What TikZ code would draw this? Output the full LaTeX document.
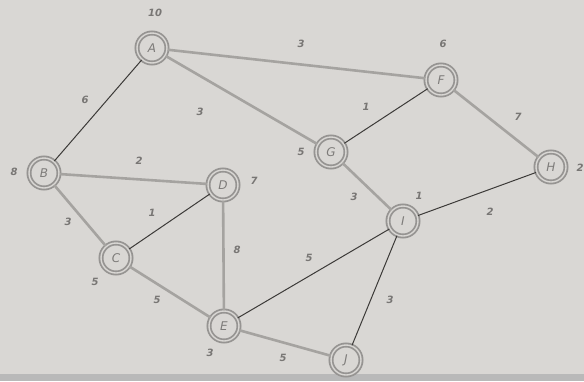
\documentclass[tikz,border=0pt]{standalone}
\usepackage{fontspec}
\setmainfont{DejaVu Sans}
\begin{document}
\begin{tikzpicture}[x=1pt,y=-1pt,
  vert/.style={circle,draw=nodecol,line width=1.8pt,double=bgcol,double distance=1.4pt,fill=bgcol,minimum size=30pt,inner sep=0pt,font=\itshape\large,text=lettercol},
  heavy/.style={draw=heavycol,line width=2.6pt},
  thin/.style={draw=thincol,line width=1pt},
  wlab/.style={font=\itshape\bfseries,text=labcol,inner sep=1pt}]
\definecolor{bgcol}{RGB}{217,215,212}
\definecolor{nodecol}{RGB}{150,148,146}
\definecolor{lettercol}{RGB}{125,123,121}
\definecolor{heavycol}{RGB}{165,163,160}
\definecolor{thincol}{RGB}{60,58,56}
\definecolor{labcol}{RGB}{120,118,116}
\useasboundingbox (0,0) rectangle (584,381);
\fill[bgcol] (0,0) rectangle (584,381);
\fill[gray!55] (0,374) rectangle (584,381);
% nodes
\node[vert] (A) at (152,48) {A};
\node[vert] (F) at (441,80) {F};
\node[vert] (B) at (44,173) {B};
\node[vert] (D) at (223,185) {D};
\node[vert] (G) at (331,152) {G};
\node[vert] (H) at (551,167) {H};
\node[vert] (I) at (403,221) {I};
\node[vert] (C) at (116,258) {C};
\node[vert] (E) at (224,326) {E};
\node[vert] (J) at (346,360) {J};
% edges
\path[heavy] (A) -- (F);
\path[heavy] (A) -- (G);
\path[thin] (A) -- (B);
\path[heavy] (B) -- (D);
\path[heavy] (B) -- (C);
\path[thin] (C) -- (D);
\path[heavy] (D) -- (E);
\path[heavy] (C) -- (E);
\path[thin] (F) -- (G);
\path[heavy] (F) -- (H);
\path[heavy] (G) -- (I);
\path[thin] (I) -- (H);
\path[thin] (E) -- (I);
\path[thin] (I) -- (J);
\path[heavy] (E) -- (J);
% vertex weights
\node[wlab] (wA) at (155,13) {10};
\node[wlab] (wF) at (443,44) {6};
\node[wlab] (wB) at (14,172) {8};
\node[wlab] (wD) at (254,181) {7};
\node[wlab] (wG) at (301,152) {5};
\node[wlab] (wH) at (580,168) {2};
\node[wlab] (wI) at (419,196) {1};
\node[wlab] (wE) at (210,353) {3};
\node[wlab] (wC) at (95,282) {5};
% edge weights
\node[wlab] (lAF) at (301,44) {3};
\node[wlab] (lAB) at (85,100) {6};
\node[wlab] (lAG) at (200,112) {3};
\node[wlab] (lBD) at (139,161) {2};
\node[wlab] (lFG) at (366,107) {1};
\node[wlab] (lFH) at (518,117) {7};
\node[wlab] (lBC) at (68,222) {3};
\node[wlab] (lCD) at (152,213) {1};
\node[wlab] (lDE) at (237,250) {8};
\node[wlab] (lCE) at (157,300) {5};
\node[wlab] (lEI) at (309,258) {5};
\node[wlab] (lGI) at (354,197) {3};
\node[wlab] (lIH) at (490,212) {2};
\node[wlab] (lIJ) at (390,300) {3};
\node[wlab] (lEJ) at (283,358) {5};
\end{tikzpicture}
\end{document}
